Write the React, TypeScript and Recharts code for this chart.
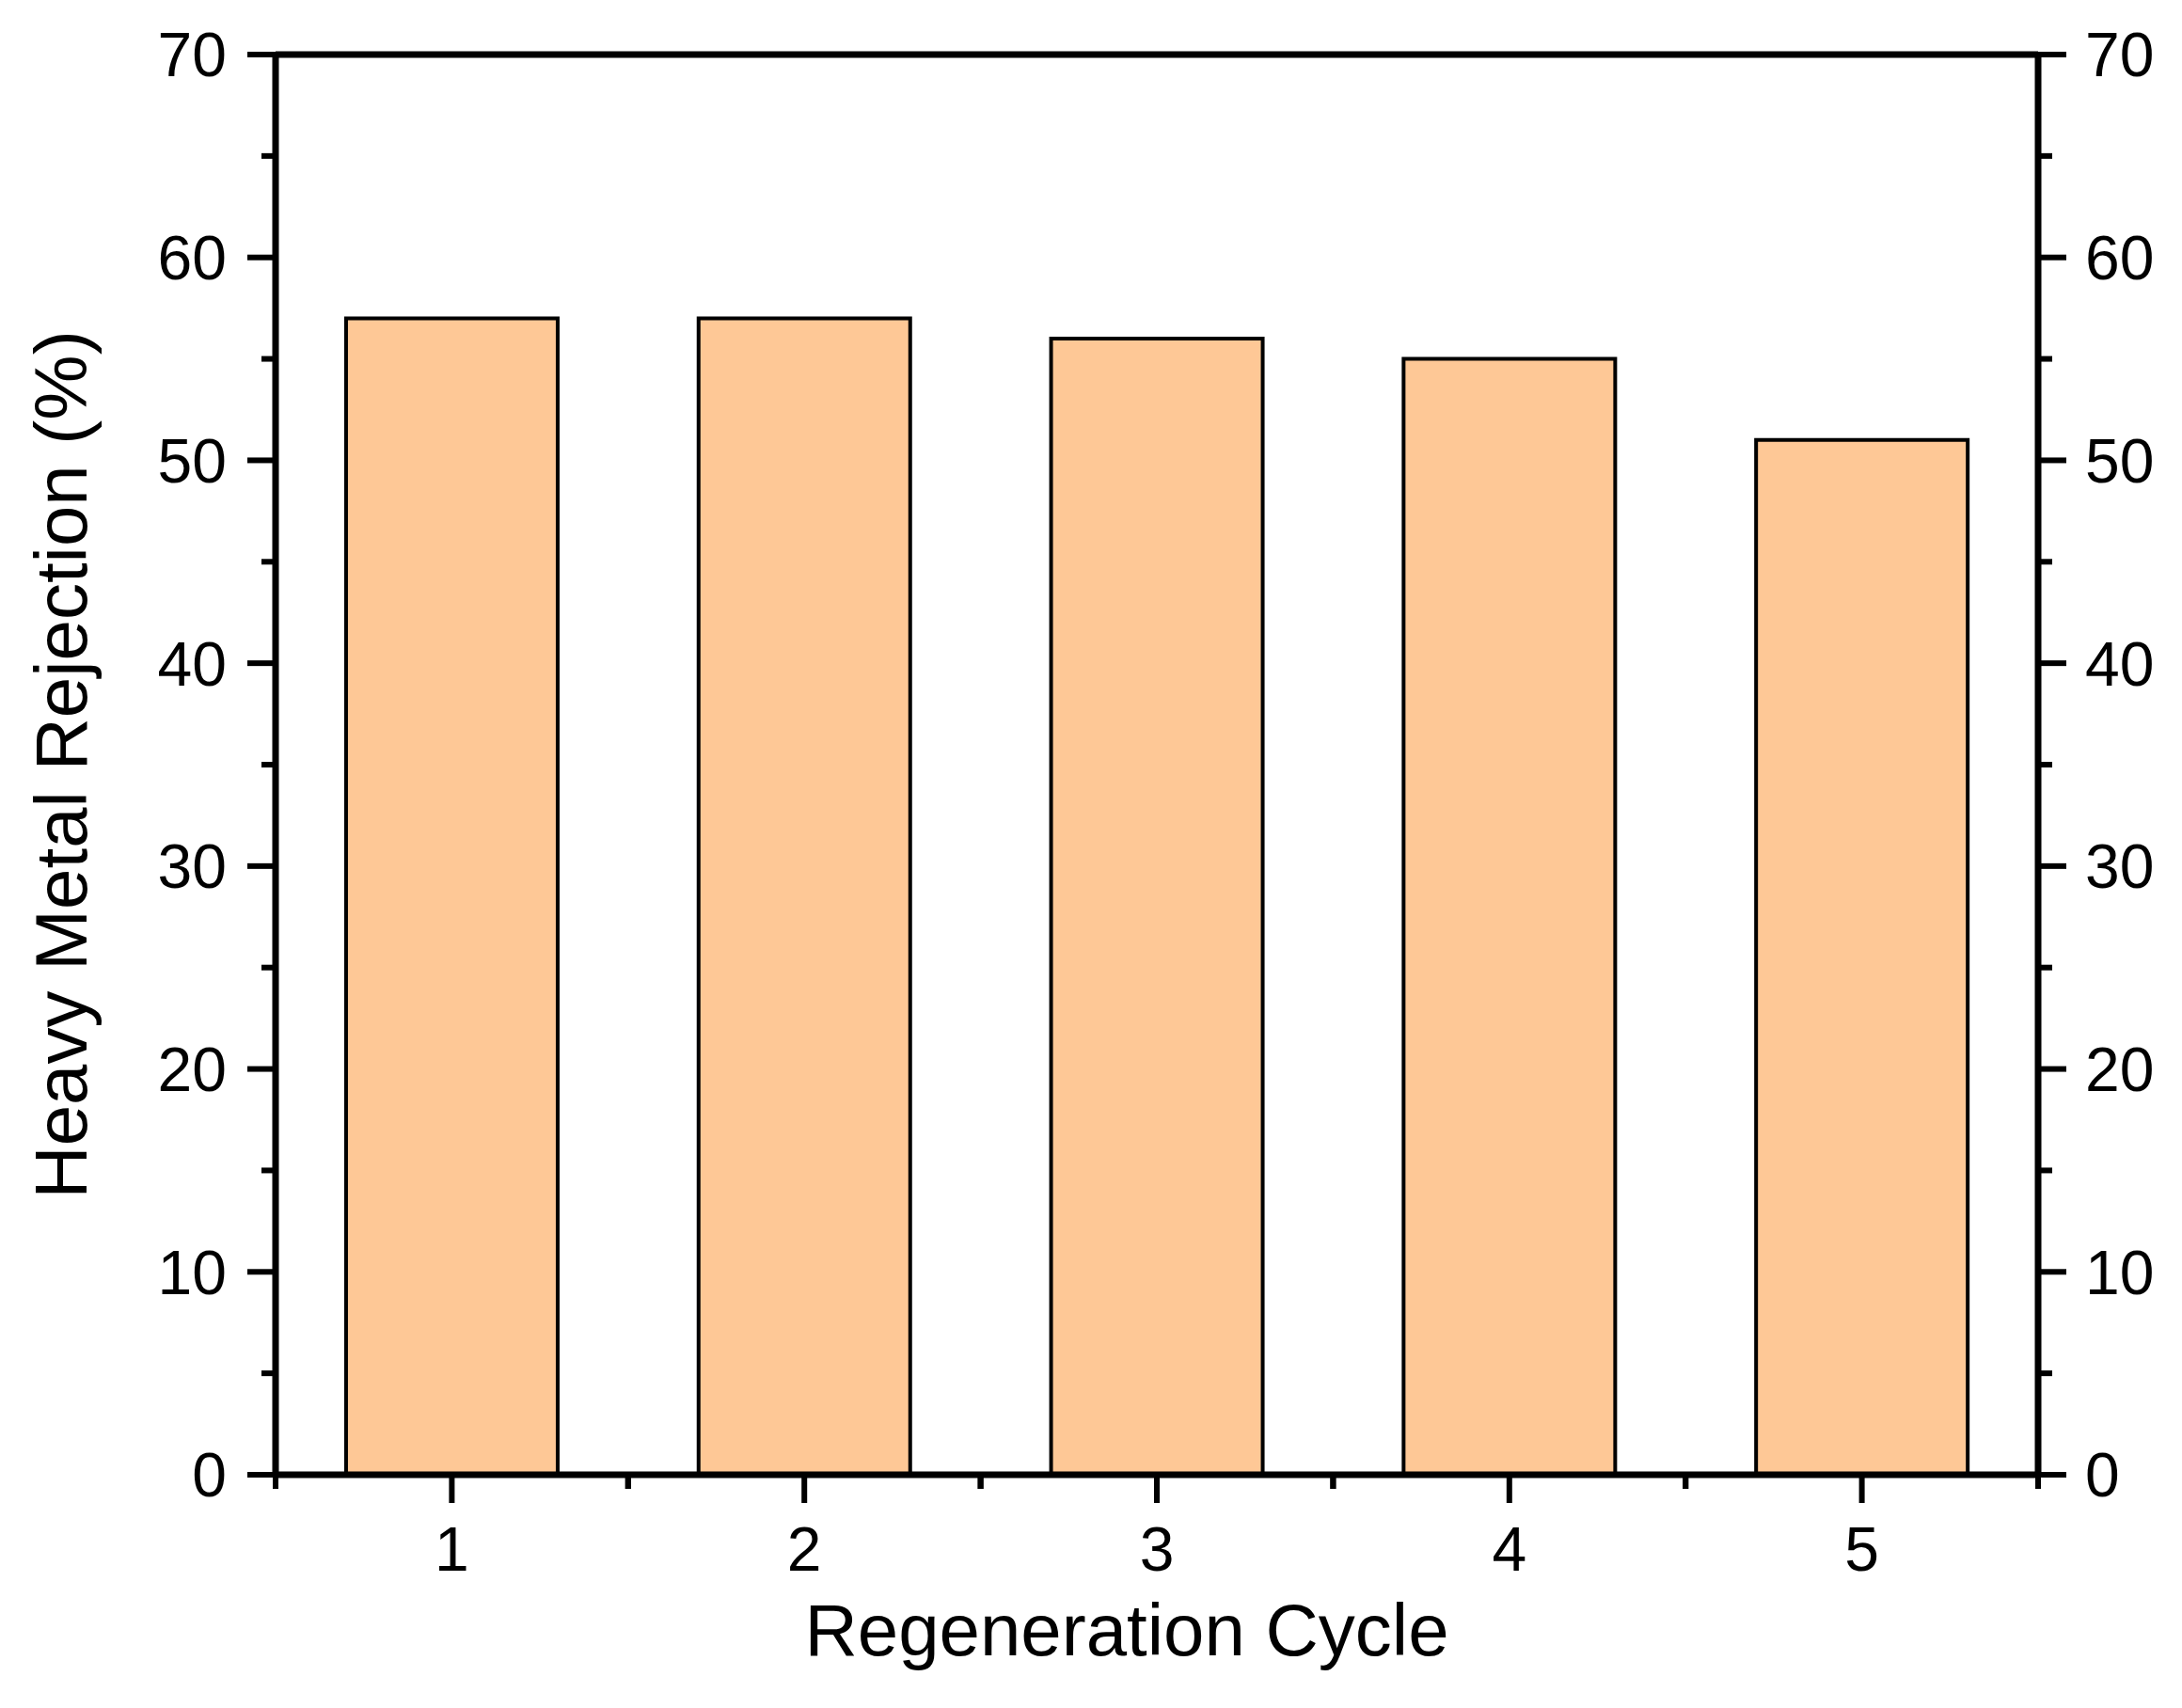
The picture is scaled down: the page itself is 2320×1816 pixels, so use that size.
import { ComposedChart, Bar, Line, XAxis, YAxis, Label } from "recharts";

// values
const cycles = ["1", "2", "3", "4", "5"];
const rejection = [57, 57, 56, 55, 51];

// every 5 gets a tick, every 10 a long tick with a label
const yTicks = [0, 5, 10, 15, 20, 25, 30, 35, 40, 45, 50, 55, 60, 65, 70];

const data = cycles.map((c, i) => ({ cycle: c, value: rejection[i] }));

const FONT = '"Liberation Sans", Arial, sans-serif';
const AXIS = { stroke: "#000", strokeWidth: 7 };
const LINE = { stroke: "#000", strokeWidth: 6 };
const MAJOR = 30;
const MINOR = 15;
const TICK_FONT = 66;

const LeftTick = ({ x, y, payload }: any) => {
  const major = payload.value % 10 === 0;
  return (
    <g>
      <line x1={x} x2={x - (major ? MAJOR : MINOR)} y1={y} y2={y} {...LINE} />
      {major && (
        <text x={x - MAJOR - 22} y={y} dy="0.355em" textAnchor="end" fill="#000" fontSize={TICK_FONT} fontFamily={FONT}>
          {payload.value}
        </text>
      )}
    </g>
  );
};

const RightTick = ({ x, y, payload }: any) => {
  const major = payload.value % 10 === 0;
  return (
    <g>
      <line x1={x} x2={x + (major ? MAJOR : MINOR)} y1={y} y2={y} {...LINE} />
      {major && (
        <text x={x + MAJOR + 20} y={y} dy="0.355em" textAnchor="start" fill="#000" fontSize={TICK_FONT} fontFamily={FONT}>
          {payload.value}
        </text>
      )}
    </g>
  );
};

const BottomTick = ({ x, y, payload, width, visibleTicksCount }: any) => {
  const half = payload.offset || width / visibleTicksCount / 2;
  return (
    <g>
      <line x1={x} x2={x} y1={y} y2={y + MAJOR} {...LINE} />
      <line x1={x - half} x2={x - half} y1={y} y2={y + MINOR} {...LINE} />
      <line x1={x + half} x2={x + half} y1={y} y2={y + MINOR} {...LINE} />
      <text x={x} y={y + MAJOR + 25} dy="0.71em" textAnchor="middle" fill="#000" fontSize={TICK_FONT} fontFamily={FONT}>
        {payload.value}
      </text>
    </g>
  );
};

const YTitle = ({ viewBox }: any) => {
  const x = 92;
  const y = viewBox.y + viewBox.height / 2;
  return (
    <text
      x={x}
      y={y}
      transform={`rotate(-90, ${x}, ${y})`}
      textAnchor="middle"
      fill="#000"
      fontSize={78}
      fontFamily={FONT}
    >
      Heavy Metal Rejection (%)
    </text>
  );
};

const XTitle = ({ viewBox }: any) => (
  <text
    x={viewBox.x + viewBox.width / 2 - 32}
    y={viewBox.y + 192}
    textAnchor="middle"
    fill="#000"
    fontSize={78}
    fontFamily={FONT}
  >
    Regeneration Cycle
  </text>
);

export default function App() {
  return (
    <div style={{ position: "absolute", left: 0, top: 0, width: 2320, height: 1816, background: "#fff" }}>
      <ComposedChart
        width={2320}
        height={1816}
        data={data}
        margin={{ top: 57, right: 3, bottom: 0, left: 93 }}
        barCategoryGap="20%"
      >
        <XAxis
          xAxisId="main"
          dataKey="cycle"
          height={248}
          interval={0}
          tickSize={0}
          tickMargin={0}
          tickLine={false}
          axisLine={AXIS}
          tick={<BottomTick />}
        >
          <Label content={<XTitle />} />
        </XAxis>
        <XAxis
          xAxisId="top"
          orientation="top"
          type="number"
          domain={[0.5, 5.5]}
          allowDataOverflow
          height={1}
          tick={false}
          tickLine={false}
          axisLine={AXIS}
        />
        <YAxis
          yAxisId="main"
          domain={[0, 70]}
          ticks={yTicks}
          interval={0}
          width={200}
          tickSize={0}
          tickMargin={0}
          tickLine={false}
          axisLine={AXIS}
          tick={<LeftTick />}
        >
          <Label content={<YTitle />} />
        </YAxis>
        <YAxis
          yAxisId="right"
          orientation="right"
          domain={[0, 70]}
          ticks={yTicks}
          interval={0}
          width={150}
          tickSize={0}
          tickMargin={0}
          tickLine={false}
          axisLine={AXIS}
          tick={<RightTick />}
        />
        <Bar
          xAxisId="main"
          yAxisId="main"
          dataKey="value"
          fill="#FEC896"
          stroke="#000"
          strokeWidth={4}
          isAnimationActive={false}
        />
        {/* invisible series that ties the mirrored right axis to the data */}
        <Line
          xAxisId="main"
          yAxisId="right"
          dataKey="value"
          stroke="none"
          dot={false}
          activeDot={false}
          legendType="none"
          isAnimationActive={false}
        />
      </ComposedChart>
    </div>
  );
}
